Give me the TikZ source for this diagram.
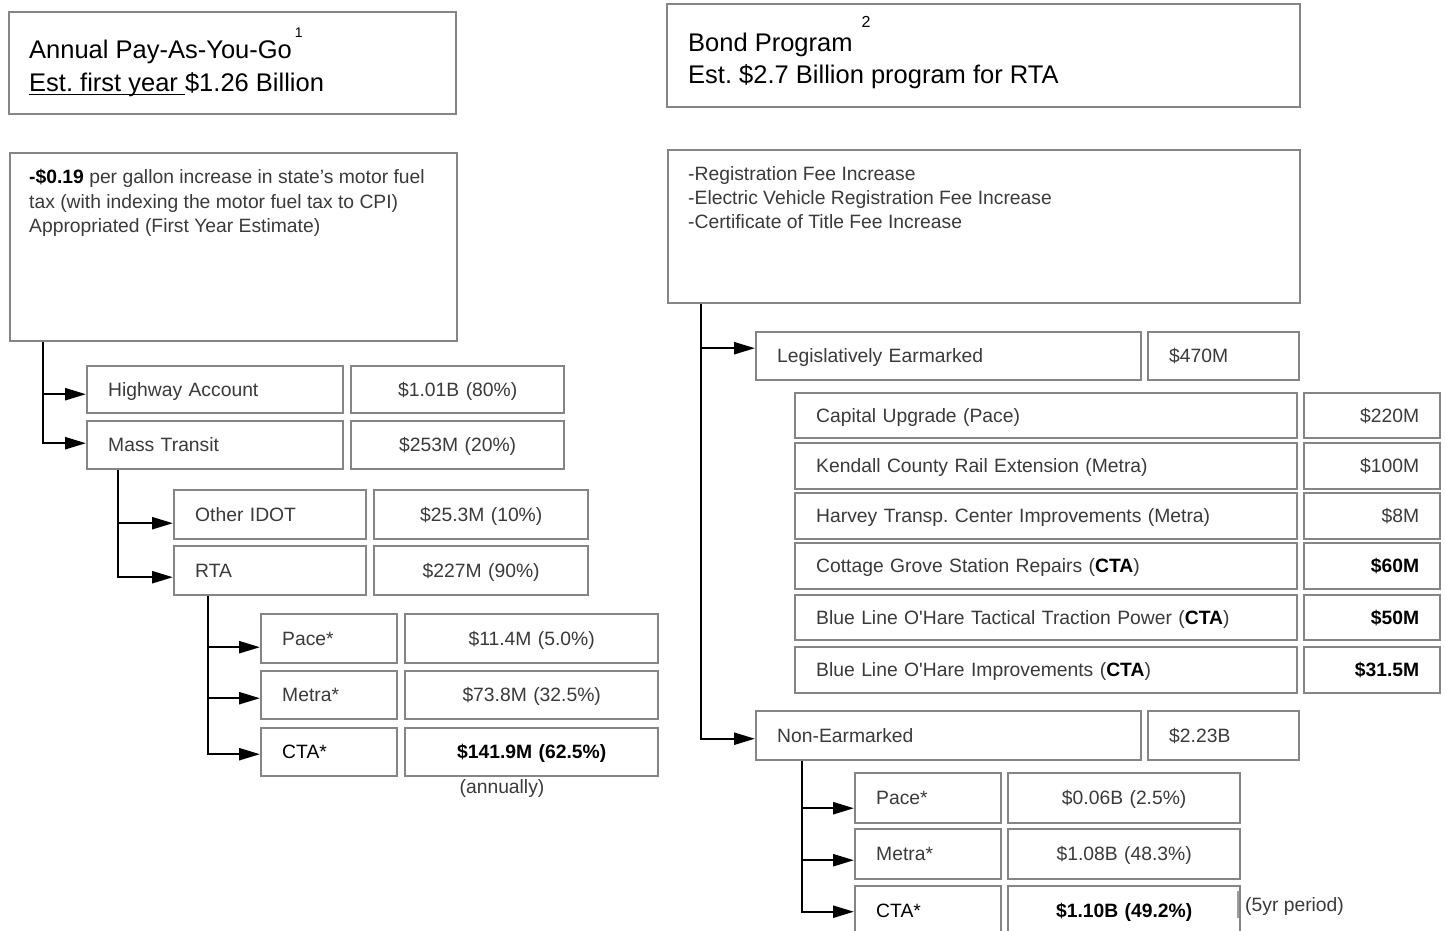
\documentclass[tikz,border=0pt]{standalone}
\usepackage{fontspec}
\setmainfont{Liberation Sans}
\usetikzlibrary{arrows.meta,calc}
\definecolor{boxgray}{HTML}{858585}
\definecolor{txtgray}{HTML}{3A3A3A}
\frenchspacing
\newcommand\apos{\XeTeXglyph\XeTeXcharglyph"0027\relax}
\newcommand\cellbox[7]{%
  \pgfmathsetmacro\cellw{#4-42}%
  \node[cell, minimum height=#5pt, text width=\cellw pt, align=#6] (#1) at (#2,#3) {#7};}
\newcommand\arrowto[3]{\draw[arr] ($(#1 |- #2.west)+(0,#3)$) -- ($(#2.west)+(0,#3)$);}
\begin{document}
\begin{tikzpicture}[x=1pt,y=-1pt,
  box/.style={draw=boxgray, line width=2.4pt, anchor=north west, inner sep=0pt},
  cell/.style={box, inner xsep=21pt, text height=16pt, text depth=3pt, font=\fontsize{19.3}{23}\selectfont, text=txtgray},
  body/.style={font=\fontsize{19.3}{23}\selectfont, text=txtgray, inner sep=0pt, anchor=base west},
  head/.style={font=\fontsize{25.5}{32}\selectfont, text=black, inner sep=0pt, anchor=base west},
  ln/.style={line width=2.4pt, draw=black},
  arr/.style={ln, -{Triangle[length=21pt,width=12pt]}},
]
\useasboundingbox[fill=white] (0,0) rectangle (1445,930);

% ---------- left header ----------
\node[box, minimum width=447pt, minimum height=102pt] (hdrL) at (8,11) {};
\node[head] (hdrLa) at (29,58) {Annual Pay-As-You-Go\hspace{3pt}\raisebox{21pt}{\fontsize{14}{14}\selectfont 1}};
\node[head] (hdrLb) at (29,91) {\underline{\smash{Est. first year }\rule[-1.5pt]{0pt}{0pt}}\$1.26 Billion};

% ---------- right header ----------
\node[box, minimum width=633pt, minimum height=103pt] (hdrR) at (666,3) {};
\node[head] (hdrRa) at (688,51) {Bond Program\hspace{9pt}\raisebox{24pt}{\fontsize{16}{16}\selectfont 2}};
\node[head] (hdrRb) at (688,83) {Est. \$2.7 Billion program for RTA};

% ---------- fuel box ----------
\node[box, minimum width=447pt, minimum height=188pt] (fuel) at (9,152) {};
\node[body] (fuelA) at (29,183.5) {\textcolor{black}{\textbf{-\$0.19}} per gallon increase in state’s motor fuel};
\node[body] (fuelB) at (29,208) {tax (with indexing the motor fuel tax to CPI)};
\node[body] (fuelC) at (29,232) {Appropriated (First Year Estimate)};

% ---------- registration box ----------
\node[box, minimum width=632pt, minimum height=153pt] (reg) at (667,149) {};
\node[body] (regA) at (688,180) {-Registration Fee Increase};
\node[body] (regB) at (688,204) {-Electric Vehicle Registration Fee Increase};
\node[body] (regC) at (688,228) {-Certificate of Title Fee Increase};

% ---------- left tree ----------
\cellbox{hw}{86}{365}{256}{47}{left}{Highway Account}
\cellbox{hwv}{350}{365}{213}{47}{center}{\$1.01B (80\%)}
\cellbox{mt}{86}{420}{256}{48}{left}{Mass Transit}
\cellbox{mtv}{350}{420}{213}{48}{center}{\$253M (20\%)}
\cellbox{oi}{173}{489}{192}{49}{left}{Other IDOT}
\cellbox{oiv}{373}{489}{214}{49}{center}{\$25.3M (10\%)}
\cellbox{rta}{173}{545}{192}{49}{left}{RTA}
\cellbox{rtav}{373}{545}{214}{49}{center}{\$227M (90\%)}
\cellbox{lpace}{260}{613}{136}{49}{left}{Pace*}
\cellbox{lpacev}{404}{613}{253}{49}{center}{\$11.4M (5.0\%)}
\cellbox{lmetra}{260}{670}{136}{48}{left}{Metra*}
\cellbox{lmetrav}{404}{670}{253}{48}{center}{\$73.8M (32.5\%)}
\cellbox{lcta}{260}{727}{136}{48}{left}{\color{black}CTA*}
\cellbox{lctav}{404}{727}{253}{48}{center}{\color{black}\bfseries \$141.9M (62.5\%)}
\node[body, anchor=center] (ann) at (502,788) {(annually)};

\coordinate (tA) at ($(fuel.south west)+(34,0)$);
\coordinate (tB) at ($(mt.south west)+(32,0)$);
\coordinate (tC) at ($(rta.south west)+(35,0)$);
\arrowto{tA}{hw}{4.5}
\draw[arr] (tA) |- ($(mt.west)+(0,-2)$);
\arrowto{tB}{oi}{8.5}
\draw[arr] (tB) |- ($(rta.west)+(0,6.5)$);
\arrowto{tC}{lpace}{8.5}
\arrowto{tC}{lmetra}{3}
\draw[arr] (tC) |- ($(lcta.west)+(0,2)$);

% ---------- right tree ----------
\cellbox{leg}{755}{331}{385}{48}{left}{Legislatively Earmarked}
\cellbox{legv}{1147}{331}{151}{48}{left}{\$470M}
\cellbox{ea}{794}{392}{502}{45}{left}{Capital Upgrade (Pace)}
\cellbox{eav}{1303}{392}{136}{45}{right}{\$220M}
\cellbox{eb}{794}{442}{502}{46}{left}{Kendall County Rail Extension (Metra)}
\cellbox{ebv}{1303}{442}{136}{46}{right}{\$100M}
\cellbox{ec}{794}{492}{502}{46}{left}{Harvey Transp. Center Improvements (Metra)}
\cellbox{ecv}{1303}{492}{136}{46}{right}{\$8M}
\cellbox{ed}{794}{542}{502}{46}{left}{Cottage Grove Station Repairs (\textcolor{black}{\textbf{CTA}})}
\cellbox{edv}{1303}{542}{136}{46}{right}{\color{black}\bfseries \$60M}
\cellbox{ee}{794}{594}{502}{45}{left}{Blue Line O\apos Hare Tactical Traction Power (\textcolor{black}{\textbf{CTA}})}
\cellbox{eev}{1303}{594}{136}{45}{right}{\color{black}\bfseries \$50M}
\cellbox{ef}{794}{646}{502}{46}{left}{Blue Line O\apos Hare Improvements (\textcolor{black}{\textbf{CTA}})}
\cellbox{efv}{1303}{646}{136}{46}{right}{\color{black}\bfseries \$31.5M}
\cellbox{non}{755}{710}{385}{49}{left}{Non-Earmarked}
\cellbox{nonv}{1147}{710}{151}{49}{left}{\$2.23B}
\cellbox{rpace}{854}{772}{146}{50}{left}{Pace*}
\cellbox{rpacev}{1007}{772}{232}{50}{center}{\$0.06B (2.5\%)}
\cellbox{rmetra}{854}{828}{146}{50}{left}{Metra*}
\cellbox{rmetrav}{1007}{828}{232}{50}{center}{\$1.08B (48.3\%)}
\cellbox{rcta}{854}{885}{146}{50}{left}{\color{black}CTA*}
\cellbox{rctav}{1007}{885}{232}{50}{center}{\color{black}\bfseries \$1.10B (49.2\%)}
\node[body, anchor=west] (fiveyr) at (1245,906) {(5yr period)};
\draw[draw=boxgray!80, line width=1.5pt] (1238,891) -- (1238,918);

\coordinate (tD) at ($(reg.south west)+(34,0)$);
\coordinate (tE) at ($(non.south west)+(47,0)$);
\arrowto{tD}{leg}{-8}
\draw[arr] (tD) |- ($(non.west)+(0,3)$);
\arrowto{tE}{rpace}{10}
\arrowto{tE}{rmetra}{6}
\draw[arr] (tE) |- ($(rcta.west)+(0,0.5)$);
\end{tikzpicture}
\end{document}
